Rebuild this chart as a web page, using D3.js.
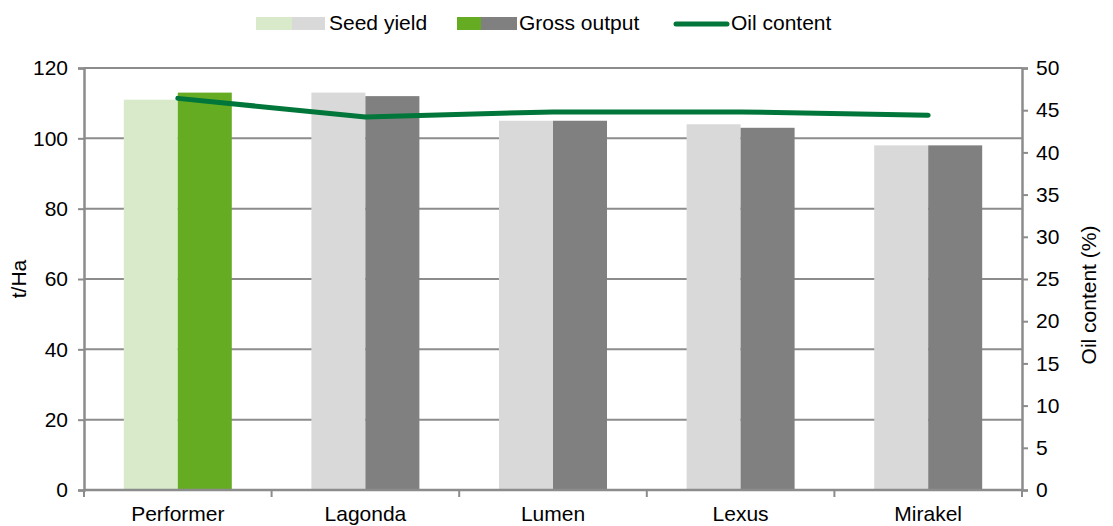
<!DOCTYPE html>
<html><head><meta charset="utf-8">
<script src="https://cdn.jsdelivr.net/npm/d3@7"></script>
<style>body{margin:0;background:#fff}svg{display:block;font-family:"Liberation Sans",Arial,sans-serif}</style>
</head><body>
<svg id="c" width="1113" height="526"></svg>
<script>
const categories = ["Performer","Lagonda","Lumen","Lexus","Mirakel"];
const seedYield = [111,113,105,104,98];
const grossOutput = [113,112,105,103,98];
const oilContent = [46.4,44.2,44.8,44.8,44.4];
const leftTicks = [0,20,40,60,80,100,120];
const rightTicks = [0,5,10,15,20,25,30,35,40,45,50];

const svg = d3.select("#c");
const L = 84, R = 1022, T = 68, B = 490;
const x = d3.scaleBand().domain(categories).range([L,R]).paddingInner(0).paddingOuter(0);
const y = d3.scaleLinear().domain([0,120]).range([B,T]);
const y2 = d3.scaleLinear().domain([0,50]).range([B,T]);
const axisCol = "#8c8c8c";

// gridlines
svg.append("g").selectAll("line").data(leftTicks.filter(d=>d>0)).join("line")
  .attr("x1",L).attr("x2",R).attr("y1",d=>y(d)).attr("y2",d=>y(d))
  .attr("stroke",axisCol).attr("stroke-width",2);

const bw = 54;
const seedCol = (i)=> i===0 ? "#d9eacb" : "#d9d9d9";
const grossCol = (i)=> i===0 ? "#66ac22" : "#808080";
const g = svg.append("g");
g.selectAll("rect.s").data(seedYield).join("rect").attr("class","s")
  .attr("x",(d,i)=>x(categories[i])+x.bandwidth()/2-bw).attr("width",bw)
  .attr("y",d=>y(d)).attr("height",d=>B-y(d)).attr("fill",(d,i)=>seedCol(i));
g.selectAll("rect.g").data(grossOutput).join("rect").attr("class","g")
  .attr("x",(d,i)=>x(categories[i])+x.bandwidth()/2).attr("width",bw)
  .attr("y",d=>y(d)).attr("height",d=>B-y(d)).attr("fill",(d,i)=>grossCol(i));

// axes
const fs = "21px";
const ax = svg.append("g").attr("transform",`translate(${L},0)`)
  .call(d3.axisLeft(y).tickValues(leftTicks).tickSize(6).tickPadding(10));
const ax2 = svg.append("g").attr("transform",`translate(${R},0)`)
  .call(d3.axisRight(y2).tickValues(rightTicks).tickSize(6).tickPadding(8));
const ax3 = svg.append("g").attr("transform",`translate(0,${B})`)
  .call(d3.axisBottom(x).tickSize(0).tickPadding(16));
[ax,ax2,ax3].forEach(a=>{
  a.select(".domain").attr("stroke",axisCol).attr("stroke-width",2.5);
  a.selectAll(".tick line").attr("stroke",axisCol).attr("stroke-width",2);
  a.selectAll("text").attr("fill","#000").style("font-size",fs).style("font-family","'Liberation Sans',Arial,sans-serif");
});
ax3.select(".domain").attr("d",`M${L},0H${R}`);
// bottom ticks at category boundaries
svg.append("g").selectAll("line").data(categories.concat(["_end"])).join("line")
  .attr("x1",(d,i)=>L+i*x.bandwidth()).attr("x2",(d,i)=>L+i*x.bandwidth())
  .attr("y1",B).attr("y2",B+7).attr("stroke",axisCol).attr("stroke-width",2);

// oil line
svg.append("path").datum(oilContent)
  .attr("d",d3.line().x((d,i)=>x(categories[i])+x.bandwidth()/2).y(d=>y2(d)))
  .attr("fill","none").attr("stroke","#00763a").attr("stroke-width",5)
  .attr("stroke-linecap","round").attr("stroke-linejoin","round");

// axis titles
svg.append("text").attr("transform","translate(26,279) rotate(-90)")
  .attr("text-anchor","middle").style("font-size",fs).text("t/Ha");
svg.append("text").attr("transform","translate(1096,295) rotate(-90)")
  .attr("text-anchor","middle").style("font-size",fs).text("Oil content (%)");

// legend
const leg = svg.append("g");
leg.append("rect").attr("x",256).attr("y",17).attr("width",36).attr("height",13).attr("fill","#d9eacb");
leg.append("rect").attr("x",292).attr("y",17).attr("width",33).attr("height",13).attr("fill","#d9d9d9");
leg.append("text").attr("x",329).attr("y",30).style("font-size",fs).text("Seed yield");
leg.append("rect").attr("x",457).attr("y",17).attr("width",24).attr("height",13).attr("fill","#66ac22");
leg.append("rect").attr("x",481).attr("y",17).attr("width",36).attr("height",13).attr("fill","#808080");
leg.append("text").attr("x",519).attr("y",30).style("font-size",fs).text("Gross output");
leg.append("line").attr("x1",676).attr("x2",727).attr("y1",24).attr("y2",24)
  .attr("stroke","#00763a").attr("stroke-width",5).attr("stroke-linecap","round");
leg.append("text").attr("x",731).attr("y",30).style("font-size",fs).text("Oil content");
</script>
</body></html>
